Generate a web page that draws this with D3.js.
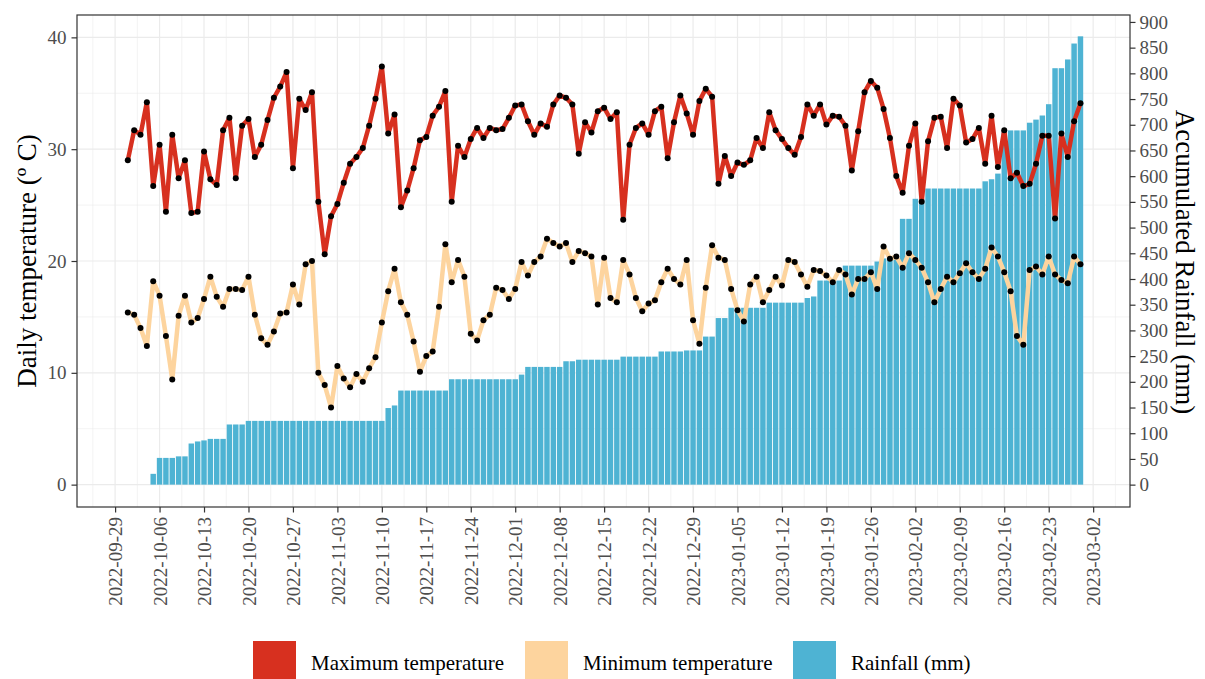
<!DOCTYPE html>
<html>
<head>
<meta charset="utf-8">
<script src="https://cdn.jsdelivr.net/npm/d3@7"></script>
<style>
  body { margin: 0; background: #fff; }
  svg { display: block; font-family: "Liberation Serif", "Times New Roman", serif; }
</style>
</head>
<body>
<svg width="1205" height="679"></svg>
<script>
// daily series, 2022-10-01 .. 2023-02-28
const firstDay = new Date(Date.UTC(2022, 9, 1));
const lastDay = new Date(Date.UTC(2023, 1, 28));

const maxTemp = [
  // Oct
  29.0, 31.7, 31.3, 34.2, 26.7, 30.4, 24.4, 31.3, 27.4, 29.0, 24.3, 24.4, 29.8, 27.3, 26.8, 31.7,
  32.8, 27.4, 32.1, 32.7, 29.3, 30.4, 32.6, 34.6, 35.6, 36.9, 28.3, 34.5, 33.5, 35.1, 25.3,
  // Nov
  20.6, 24.0, 25.1, 27.0, 28.7, 29.3, 30.1, 32.1, 34.5, 37.4, 31.4, 33.1, 24.8, 26.3, 28.3,
  30.8, 31.1, 33.0, 33.8, 35.2, 25.3, 30.3, 29.3, 30.9, 31.9, 31.0, 31.9, 31.7, 31.8, 32.8,
  // Dec
  33.9, 34.0, 32.5, 31.3, 32.3, 32.0, 34.0, 34.8, 34.6, 34.0, 29.6, 32.4, 31.5, 33.4, 33.7, 32.7,
  33.3, 23.7, 30.4, 31.9, 32.3, 31.3, 33.4, 33.8, 29.2, 32.4, 34.8, 33.2, 31.3, 34.3, 35.4,
  // Jan
  34.7, 26.9, 29.4, 27.6, 28.8, 28.6, 29.0, 31.0, 30.1, 33.3, 31.7, 30.9, 30.1, 29.5, 31.1, 34.0,
  33.0, 34.0, 32.2, 33.0, 32.9, 32.1, 28.1, 31.6, 35.1, 36.1, 35.5, 33.6, 31.0, 27.6, 26.1,
  // Feb
  30.3, 32.3, 25.3, 30.7, 32.8, 32.9, 30.1, 34.5, 33.9, 30.6, 30.9, 31.9, 28.7, 33.0, 28.4, 31.7,
  27.4, 27.9, 26.7, 26.9, 28.7, 31.2, 31.2, 23.8, 31.4, 29.3, 32.5, 34.1
];

const minTemp = [
  // Oct
  15.4, 15.2, 14.0, 12.4, 18.2, 16.9, 13.3, 9.4, 15.1, 16.9, 14.5, 14.9, 16.6, 18.6, 16.8, 15.9,
  17.5, 17.5, 17.4, 18.6, 15.2, 13.1, 12.5, 13.7, 15.3, 15.4, 17.9, 16.1, 19.7, 20.0, 10.0,
  // Nov
  8.9, 6.9, 10.6, 9.5, 8.7, 9.9, 9.2, 10.4, 11.4, 14.5, 17.3, 19.3, 16.3, 15.2, 12.8,
  10.1, 11.5, 11.9, 15.9, 21.5, 18.1, 20.1, 18.6, 13.5, 12.9, 14.7, 15.2, 17.6, 17.4, 16.6,
  // Dec
  17.5, 19.9, 18.7, 19.9, 20.4, 22.0, 21.6, 21.3, 21.6, 19.9, 20.9, 20.7, 20.4, 16.1, 20.3, 16.7,
  16.3, 20.1, 18.8, 16.7, 15.5, 16.2, 16.5, 18.1, 19.3, 18.4, 17.9, 20.1, 14.7, 12.6, 17.6,
  // Jan
  21.4, 20.3, 20.1, 17.5, 15.6, 14.6, 17.9, 18.6, 16.3, 17.4, 18.6, 17.8, 20.1, 19.9, 18.8, 17.7,
  19.2, 19.1, 18.7, 18.1, 19.2, 18.8, 17.0, 18.4, 18.4, 19.0, 17.5, 21.3, 20.2, 20.4, 19.4,
  // Feb
  20.7, 20.1, 19.4, 18.1, 16.3, 17.5, 18.6, 18.1, 18.9, 19.8, 19.0, 18.4, 19.3, 21.2, 20.4, 19.0,
  17.3, 13.3, 12.5, 19.2, 19.5, 18.8, 20.4, 18.8, 18.3, 18.0, 20.4, 19.7
];

// accumulated rainfall (mm)
const rainfall = [
  // Oct
  0, 0, 0, 0, 21, 52, 52, 52, 55, 55, 80, 84, 86, 89, 89, 89,
  117, 117, 117, 124, 124, 124, 124, 124, 124, 124, 124, 124, 124, 124, 124,
  // Nov
  124, 124, 124, 124, 124, 124, 124, 124, 124, 124, 149, 154, 183, 183, 183,
  183, 183, 183, 183, 183, 205, 205, 205, 205, 205, 205, 205, 205, 205, 205,
  // Dec
  205, 214, 229, 229, 229, 229, 229, 229, 240, 240, 243, 243, 243, 243, 243, 243,
  243, 249, 249, 249, 249, 249, 249, 259, 259, 259, 259, 261, 261, 261, 288,
  // Jan
  288, 324, 324, 344, 344, 344, 344, 344, 344, 354, 354, 354, 354, 354, 354, 363,
  366, 397, 397, 397, 397, 426, 426, 426, 426, 426, 434, 440, 440, 440, 517,
  // Feb
  517, 556, 556, 576, 576, 576, 576, 576, 576, 576, 576, 576, 590, 594, 605, 689,
  689, 689, 689, 704, 710, 718, 740, 810, 810, 827, 858, 872
];

const tempTicks = [0, 10, 20, 30, 40];
const tempMinor = [5, 15, 25, 35];
const rainTicks = [0, 50, 100, 150, 200, 250, 300, 350, 400, 450, 500, 550, 600, 650, 700, 750, 800, 850, 900];
const legendLabels = ["Maximum temperature", "Minimum temperature", "Rainfall (mm)"];

const colMax = "#d7301f", colMin = "#fdd49e", colRain = "#4eb3d3";
const rainPerDegree = 21.75; // secondary axis factor

const days = d3.utcDay.range(firstDay, d3.utcDay.offset(lastDay, 1));
const data = days.map((d, i) => ({ date: d, tmax: maxTemp[i], tmin: minTemp[i], rain: rainfall[i] }));

const svg = d3.select("svg");
const panel = { left: 77, right: 1130, top: 15, bottom: 507 };
const DAY = 864e5;

const x = d3.scaleUtc()
  .domain([new Date(+firstDay - 8 * DAY), new Date(+lastDay + 7.8 * DAY)])
  .range([panel.left, panel.right]);
const y = d3.scaleLinear().domain([-2, 42]).range([panel.bottom, panel.top]);
const yRain = d3.scaleLinear().domain([-2 * rainPerDegree, 42 * rainPerDegree]).range([panel.bottom, panel.top]);

// weekly ticks starting 2022-09-29
const xTicks = d3.utcDay.range(new Date(Date.UTC(2022, 8, 29)), new Date(Date.UTC(2023, 2, 3)), 7);
const xMinor = xTicks.map(d => new Date(+d - 3.5 * DAY)).concat([new Date(+xTicks[xTicks.length - 1] + 3.5 * DAY)]);

svg.append("rect")
  .attr("x", panel.left).attr("y", panel.top)
  .attr("width", panel.right - panel.left).attr("height", panel.bottom - panel.top)
  .attr("fill", "#fff");

const grid = svg.append("g").attr("stroke", "#ebebeb");
grid.selectAll(".hmin").data(tempMinor).join("line")
  .attr("x1", panel.left).attr("x2", panel.right)
  .attr("y1", d => y(d)).attr("y2", d => y(d)).attr("stroke-width", 0.6);
grid.selectAll(".vmin").data(xMinor).join("line")
  .attr("y1", panel.top).attr("y2", panel.bottom)
  .attr("x1", d => x(d)).attr("x2", d => x(d)).attr("stroke-width", 0.6);
grid.selectAll(".hmaj").data(tempTicks).join("line")
  .attr("x1", panel.left).attr("x2", panel.right)
  .attr("y1", d => y(d)).attr("y2", d => y(d)).attr("stroke-width", 1.2);
grid.selectAll(".vmaj").data(xTicks).join("line")
  .attr("y1", panel.top).attr("y2", panel.bottom)
  .attr("x1", d => x(d)).attr("x2", d => x(d)).attr("stroke-width", 1.2);

// rainfall bars
const bw = (x(days[1]) - x(days[0])) * 0.86;
svg.append("g").selectAll("rect")
  .data(data.filter(d => d.rain > 0))
  .join("rect")
  .attr("x", d => x(d.date) - bw / 2)
  .attr("width", bw)
  .attr("y", d => yRain(d.rain))
  .attr("height", d => yRain(0) - yRain(d.rain))
  .attr("fill", colRain);

// temperature lines
const lineMax = d3.line().x(d => x(d.date)).y(d => y(d.tmax));
const lineMin = d3.line().x(d => x(d.date)).y(d => y(d.tmin));
svg.append("path").datum(data).attr("d", lineMax)
  .attr("fill", "none").attr("stroke", colMax).attr("stroke-width", 4.5).attr("stroke-linejoin", "round");
svg.append("path").datum(data).attr("d", lineMin)
  .attr("fill", "none").attr("stroke", colMin).attr("stroke-width", 4.5).attr("stroke-linejoin", "round");

const pts = svg.append("g").attr("fill", "#000");
pts.selectAll(".pmax").data(data).join("circle")
  .attr("cx", d => x(d.date)).attr("cy", d => y(d.tmax)).attr("r", 3);
pts.selectAll(".pmin").data(data).join("circle")
  .attr("cx", d => x(d.date)).attr("cy", d => y(d.tmin)).attr("r", 3);

// panel border
svg.append("rect")
  .attr("x", panel.left).attr("y", panel.top)
  .attr("width", panel.right - panel.left).attr("height", panel.bottom - panel.top)
  .attr("fill", "none").attr("stroke", "#333").attr("stroke-width", 1.2);

// axes
function styleAxis(g) {
  g.select(".domain").remove();
  g.selectAll(".tick line").attr("stroke", "#333").attr("stroke-width", 1.2);
  g.selectAll(".tick text").attr("fill", "#4d4d4d").attr("font-size", 19)
    .attr("font-family", "Liberation Serif, Times New Roman, serif");
}

svg.append("g").attr("transform", `translate(${panel.left},0)`)
  .call(d3.axisLeft(y).tickValues(tempTicks).tickSize(5.5).tickPadding(5))
  .call(styleAxis);

svg.append("g").attr("transform", `translate(${panel.right},0)`)
  .call(d3.axisRight(yRain).tickValues(rainTicks).tickSize(5.5).tickPadding(4))
  .call(styleAxis);

svg.append("g").attr("transform", `translate(0,${panel.bottom})`)
  .call(d3.axisBottom(x).tickValues(xTicks).tickFormat(d3.utcFormat("%Y-%m-%d")).tickSize(5.5))
  .call(styleAxis)
  .call(g => g.selectAll(".tick text")
    .attr("transform", "rotate(-90)")
    .attr("text-anchor", "end")
    .attr("x", -10).attr("y", 0).attr("dy", "0.35em"));

// axis titles
svg.append("text")
  .attr("transform", "translate(36,261) rotate(-90)")
  .attr("text-anchor", "middle").attr("font-size", 27).attr("fill", "#000")
  .text("Daily temperature (º C)");
svg.append("text")
  .attr("transform", "translate(1176,262) rotate(90)")
  .attr("text-anchor", "middle").attr("font-size", 27).attr("fill", "#000")
  .text("Accumulated Rainfall (mm)");

// legend
const legendX = [253, 525, 793];
const legendCols = [colMax, colMin, colRain];
const leg = svg.append("g");
legendLabels.forEach((lab, i) => {
  leg.append("rect").attr("x", legendX[i]).attr("y", 641).attr("width", 43).attr("height", 44)
    .attr("fill", legendCols[i]);
  leg.append("text").attr("x", legendX[i] + 58).attr("y", 670)
    .attr("font-size", 21).attr("fill", "#000").text(lab);
});
</script>
</body>
</html>
